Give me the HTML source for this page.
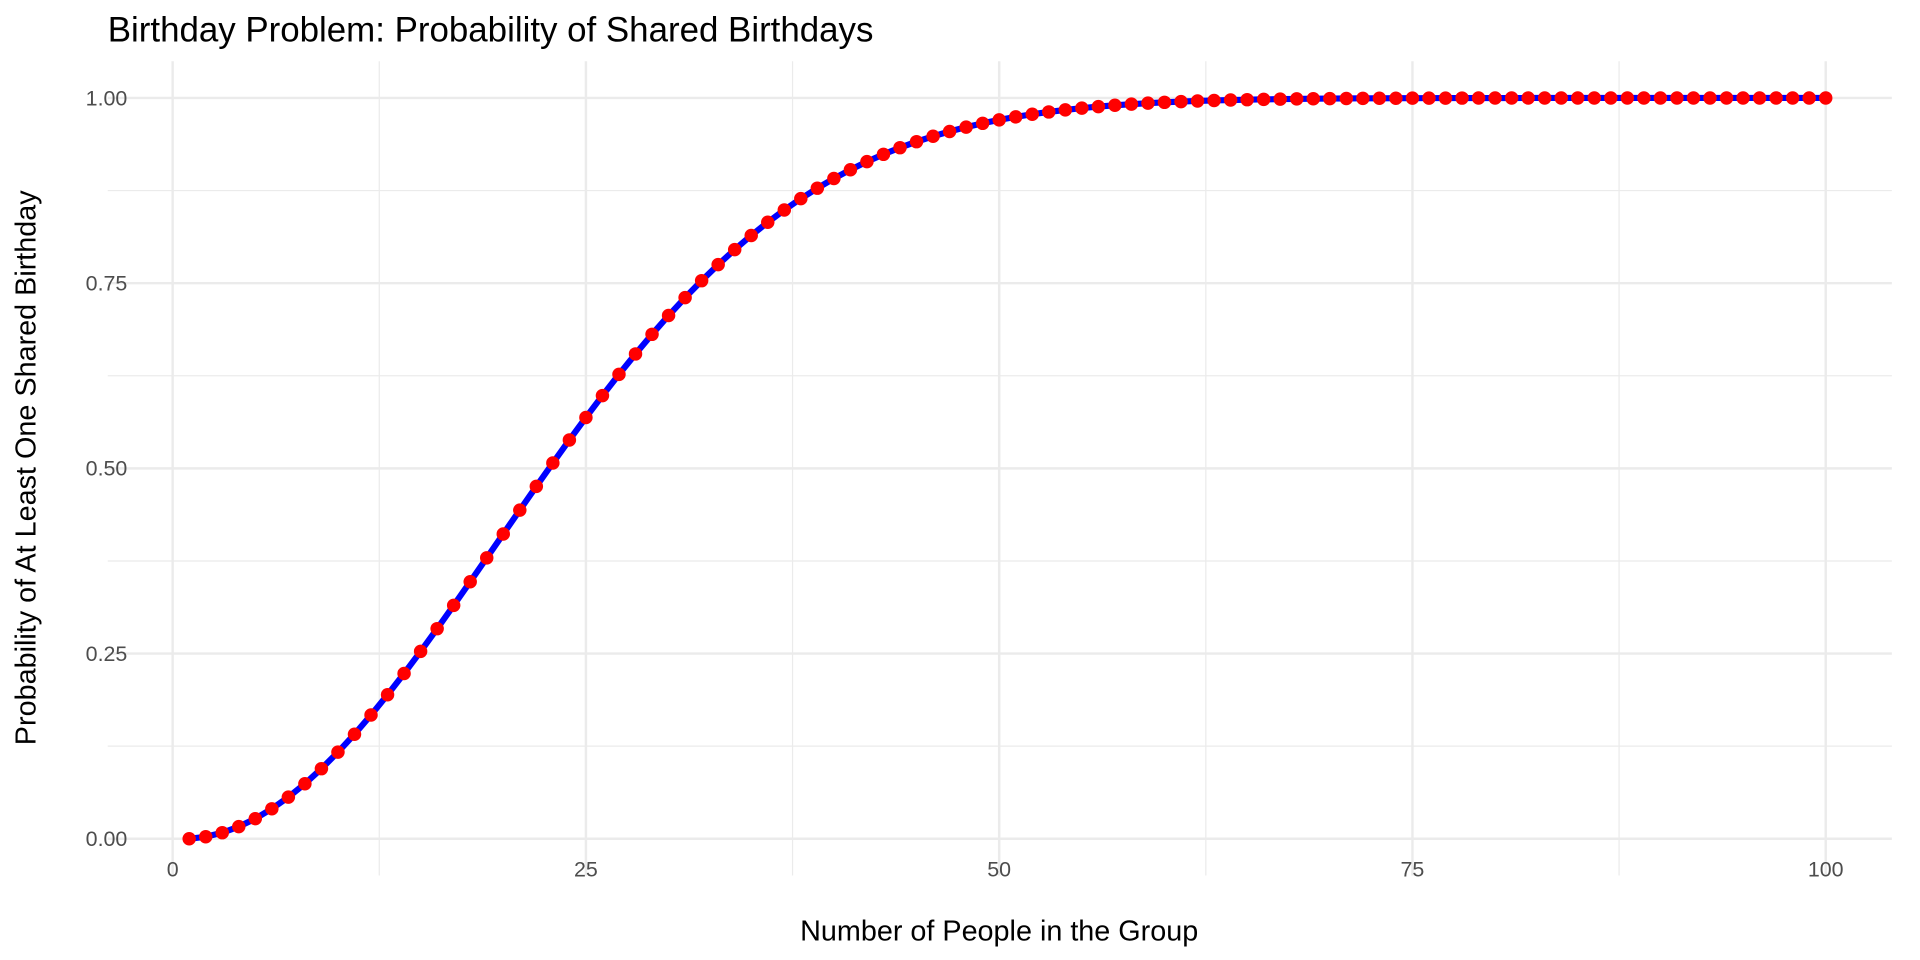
<!DOCTYPE html>
<html><head><meta charset="utf-8"><style>
html,body{margin:0;padding:0;background:#fff;width:1920px;height:960px;overflow:hidden}
svg{display:block}
text{font-family:"Liberation Sans",Arial,sans-serif}
</style></head><body>
<svg id="s" width="1920" height="960" viewBox="0 0 1568 784" xmlns="http://www.w3.org/2000/svg">
<rect width="1568" height="784" fill="#fff"/>
<g id="grid"></g>
<g id="data"></g>
<text x="88" y="34" font-size="28.5" fill="#000">Birthday Problem: Probability of Shared Birthdays</text>
<text x="816" y="768" font-size="23.5" text-anchor="middle" fill="#000">Number of People in the Group</text>
<text transform="translate(29,382) rotate(-90)" font-size="23.5" text-anchor="middle" fill="#000">Probability of At Least One Shared Birthday</text>
<g id="ticks" font-size="17.5" fill="#4d4d4d"></g>
</svg>
<script>
var NS="http://www.w3.org/2000/svg";
function X(v){return 141+v*13.5;}
function Y(p){return 685-p*605;}
function el(t,a,p,txt){var e=document.createElementNS(NS,t);for(var k in a)e.setAttribute(k,a[k]);if(txt!==undefined)e.textContent=txt;p.appendChild(e);return e;}
var g=document.getElementById('grid'),tk=document.getElementById('ticks'),d=document.getElementById('data');
var L=88,R=1545,T=50,B=715;
[12.5,37.5,62.5,87.5].forEach(function(v){el('line',{x1:X(v),x2:X(v),y1:T,y2:B,stroke:'#ebebeb','stroke-width':1},g);});
[0.125,0.375,0.625,0.875].forEach(function(v){el('line',{x1:L,x2:R,y1:Y(v),y2:Y(v),stroke:'#ebebeb','stroke-width':1},g);});
[0,25,50,75,100].forEach(function(v){el('line',{x1:X(v),x2:X(v),y1:T,y2:B,stroke:'#ebebeb','stroke-width':2},g);
 el('text',{x:X(v),y:716,'text-anchor':'middle'},tk,String(v));});
[0,0.25,0.5,0.75,1].forEach(function(v){el('line',{x1:L,x2:R,y1:Y(v),y2:Y(v),stroke:'#ebebeb','stroke-width':2},g);
 el('text',{x:104,y:Y(v)+6,'text-anchor':'end'},tk,v.toFixed(2));});
var pts=[],q=1;
for(var n=1;n<=100;n++){ if(n>1)q*=(365-(n-1))/365; pts.push([X(n),Y(1-q)]); }
el('polyline',{points:pts.map(function(p){return p.join(',')}).join(' '),fill:'none',stroke:'#0000ff','stroke-width':5,'stroke-linejoin':'round'},d);
pts.forEach(function(p){el('circle',{cx:p[0],cy:p[1],r:5.5,fill:'#ff0000'},d);});
</script>
</body></html>
